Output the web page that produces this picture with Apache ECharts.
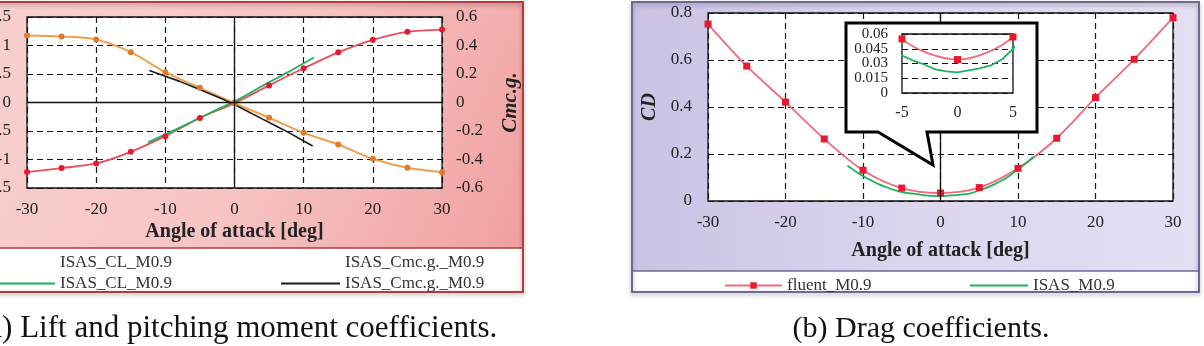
<!DOCTYPE html>
<html><head><meta charset="utf-8">
<script src="https://cdn.jsdelivr.net/npm/echarts@6/dist/echarts.min.js"></script>
<style>html,body{margin:0;padding:0;background:#fff;}#c{width:1204px;height:346px;}</style>
</head><body><div id="c"></div>
<script>
// ---- data ----
const aoa = [-30,-25,-20,-15,-10,-5,0,5,10,15,20,25,30];
const clFluent = [-1.22,-1.15,-1.07,-0.865,-0.59,-0.27,-0.01,0.30,0.60,0.88,1.10,1.24,1.28];
const cmFluent = [0.47,0.463,0.442,0.353,0.213,0.103,-0.005,-0.107,-0.213,-0.295,-0.395,-0.458,-0.489];
const aoaIsasCl = [-12.5,-10,-8,-6,-4,-2,0,2,4,6,8,10,11.5];
const clIsas = [-0.70,-0.56,-0.445,-0.33,-0.21,-0.095,0.02,0.15,0.29,0.42,0.55,0.69,0.79];
const aoaIsasCm = [-12.3,-10,-8,-6,-4,-2,0,2,4,6,8,10,11.3];
const cmIsas = [0.225,0.185,0.15,0.11,0.07,0.03,-0.015,-0.065,-0.115,-0.165,-0.215,-0.27,-0.305];
const cdFluent = [0.753,0.574,0.421,0.264,0.131,0.055,0.034,0.057,0.139,0.267,0.44,0.603,0.78];
const aoaIsasCd = [-12,-11,-10,-9,-8,-7,-6,-5,-4,-3,-2,-1,0,1,2,3,4,5,6,7,8,9,10,11,12];
const cdIsas = [0.150,0.127,0.106,0.088,0.072,0.059,0.047,0.038,0.033,0.029,0.024,0.022,0.021,0.023,0.025,0.028,0.034,0.045,0.057,0.072,0.089,0.110,0.135,0.160,0.187];
const insetYTicksA = [0, 0.03, 0.06];
const insetYTicksB = [0.015, 0.045];
const legendLeftText = ['ISAS_CL_M0.9','ISAS_CL_M0.9','ISAS_Cmc.g._M0.9','ISAS_Cmc.g._M0.9'];
const legendRightText = ['fluent_M0.9','ISAS_M0.9'];
const xTitle = 'Angle of attack [deg]';
const captionA = '(a) Lift and pitching moment coefficients.';
const captionB = '(b) Drag coefficients.';

const pts = (xs, ys) => xs.map((x, i) => [x, ys[i]]);
const FF = '"Liberation Serif", "Times New Roman", serif';
const dash = {type: [6, 4], color: '#151515', width: 1.2};
const lab = (m) => ({margin: m, fontFamily: FF, fontSize: 17, color: '#222', hideOverlap: false, showMinLabel: true, showMaxLabel: true});
const zeroMark = (arr) => ({symbol: 'none', silent: true, label: {show: false}, animation: false,
  lineStyle: {type: 'solid', color: '#111', width: 1.3}, emphasis: {disabled: true}, data: arr});
const fmt3 = (v) => String(+(+v).toFixed(3));

const RED = '#e8192f', REDL = '#ef4b5c', GREEN = '#1db35c', ORANGE = '#eea04e', ORANGEM = '#e07a2c', BLACK = '#1a1a1a';
const legText = {fontFamily: FF, fontSize: 17, color: '#333'};

const chart = echarts.init(document.getElementById('c'), null, {renderer: 'canvas'});
const option = {
  animation: false,
  graphic: [
    {type: 'rect', z: -10, shape: {x: -10, y: 2, width: 533, height: 247},
      style: {fill: new echarts.graphic.LinearGradient(0, 0, 1, 1, [{offset: 0, color: '#f8d0d0'}, {offset: 0.5, color: '#f7c4c4'}, {offset: 1, color: '#f0a0a0'}])}},
    {type: 'rect', z: -10, shape: {x: -10, y: 248, width: 533, height: 43}, style: {fill: '#ffffff'}},
    {type: 'rect', z: -9, shape: {x: -10, y: 2, width: 533, height: 290},
      style: {fill: 'none', stroke: '#b53a3a', lineWidth: 2, shadowBlur: 4, shadowColor: 'rgba(0,0,0,0.35)', shadowOffsetY: 2}},
    {type: 'line', z: -9, shape: {x1: -10, y1: 248, x2: 523, y2: 248}, style: {stroke: '#b53a3a', lineWidth: 1.5}},
    {type: 'rect', z: -10, shape: {x: 632, y: 2, width: 568, height: 270},
      style: {fill: new echarts.graphic.LinearGradient(0, 0, 1, 0, [{offset: 0, color: '#cbc2e4'}, {offset: 0.5, color: '#dcd5ee'}, {offset: 1, color: '#e4dff3'}])}},
    {type: 'rect', z: -10, shape: {x: 632, y: 271, width: 568, height: 21}, style: {fill: '#ffffff'}},
    {type: 'rect', z: -9, shape: {x: 632, y: 2, width: 567, height: 290},
      style: {fill: 'none', stroke: '#6c6a90', lineWidth: 2, shadowBlur: 4, shadowColor: 'rgba(0,0,0,0.35)', shadowOffsetY: 2}},
    {type: 'line', z: -9, shape: {x1: 632, y1: 271, x2: 1199, y2: 271}, style: {stroke: '#6c6a90', lineWidth: 1.5}},
    {type: 'polygon', z: 15, shape: {points: [[846,23],[1037,23],[1037,132],[927,132],[933,165],[878,132],[846,132]]},
      style: {fill: '#ffffff', stroke: '#000', lineWidth: 3, lineJoin: 'miter'}},
    {type: 'text', z: 5, style: {text: captionA, x: -22, y: 329, font: '31px ' + FF, fill: '#111', textAlign: 'left', textVerticalAlign: 'middle', verticalAlign: 'middle'}},
    {type: 'text', z: 5, style: {text: captionB, x: 921, y: 329, font: '30px ' + FF, fill: '#111', textAlign: 'center', align: 'center', textVerticalAlign: 'middle', verticalAlign: 'middle'}}
  ],
  grid: [
    {left: 27, top: 17, width: 415, height: 171, show: true, outerBoundsMode: 'none', containLabel: false, backgroundColor: '#fff', borderColor: '#111', borderWidth: 1.3},
    {left: 708, top: 13, width: 465, height: 188, show: true, outerBoundsMode: 'none', containLabel: false, backgroundColor: '#fff', borderColor: '#111', borderWidth: 1.3},
    {left: 902, top: 34, width: 111, height: 59, show: true, outerBoundsMode: 'none', containLabel: false, z: 20, backgroundColor: '#fff', borderColor: '#111', borderWidth: 1.3}
  ],
  xAxis: [
    {gridIndex: 0, type: 'value', min: -30, max: 30, interval: 10, axisLine: {show: false}, axisTick: {show: false},
      splitLine: {show: true, lineStyle: dash}, axisLabel: lab(13),
      name: xTitle, nameLocation: 'middle', nameGap: 34, nameTextStyle: {fontFamily: FF, fontWeight: 'bold', fontSize: 20, color: '#222'}},
    {gridIndex: 1, type: 'value', min: -30, max: 30, interval: 10, axisLine: {show: false}, axisTick: {show: false},
      splitLine: {show: true, lineStyle: dash}, axisLabel: lab(13),
      name: xTitle, nameLocation: 'middle', nameGap: 40, nameTextStyle: {fontFamily: FF, fontWeight: 'bold', fontSize: 20, color: '#222'}},
    {gridIndex: 2, type: 'value', min: -5, max: 5, interval: 5, z: 21, axisLine: {show: false}, axisTick: {show: false},
      splitLine: {show: false}, axisLabel: {margin: 12, fontFamily: FF, fontSize: 16, color: '#222', hideOverlap: false, showMinLabel: true, showMaxLabel: true}}
  ],
  yAxis: [
    {gridIndex: 0, type: 'value', min: -1.5, max: 1.5, interval: 0.5, position: 'left', axisLine: {show: false}, axisTick: {show: false},
      splitLine: {show: true, lineStyle: dash}, axisLabel: lab(16)},
    {gridIndex: 0, type: 'value', min: -0.6, max: 0.6, interval: 0.2, position: 'right', axisLine: {show: false}, axisTick: {show: false},
      splitLine: {show: false}, axisLabel: lab(14),
      name: 'Cmc.g.', nameLocation: 'middle', nameGap: 58, nameRotate: 90,
      nameTextStyle: {fontFamily: FF, fontWeight: 'bold', fontStyle: 'italic', fontSize: 21, color: '#222'}},
    {gridIndex: 1, type: 'value', min: 0, max: 0.8, interval: 0.2, axisLine: {show: false}, axisTick: {show: false},
      splitLine: {show: true, lineStyle: dash}, axisLabel: lab(16),
      name: 'CD', nameLocation: 'middle', nameGap: 48, nameRotate: 90,
      nameTextStyle: {fontFamily: FF, fontWeight: 'bold', fontStyle: 'italic', fontSize: 20, color: '#222'}},
    {gridIndex: 2, type: 'value', min: 0, max: 0.06, interval: 0.015, z: 21, position: 'left', axisLine: {show: false}, axisTick: {show: false},
      splitLine: {show: true, lineStyle: dash},
      axisLabel: {customValues: insetYTicksA, formatter: fmt3, margin: 14, fontFamily: FF, fontSize: 15, color: '#222', hideOverlap: false, showMinLabel: true, showMaxLabel: true}},
    {gridIndex: 2, type: 'value', min: 0, max: 0.06, interval: 0.015, z: 21, position: 'right', offset: -111, axisLine: {show: false}, axisTick: {show: false},
      splitLine: {show: false},
      axisLabel: {customValues: insetYTicksB, formatter: fmt3, align: 'right', margin: -14, fontFamily: FF, fontSize: 15, color: '#222', hideOverlap: false}}
  ],
  legend: [
    {left: -8, top: 249, selectedMode: false, itemWidth: 57, itemHeight: 8, formatter: () => legendLeftText[0], textStyle: legText,
      data: [{name: 'fluent_CL', itemStyle: {opacity: 0}, lineStyle: {opacity: 0}}]},
    {left: -8, top: 270, selectedMode: false, itemWidth: 57, itemHeight: 8, formatter: () => legendLeftText[1], textStyle: legText,
      data: [{name: 'ISAS_CL', itemStyle: {opacity: 0}}]},
    {left: 275, top: 249, selectedMode: false, itemWidth: 59, itemHeight: 8, formatter: () => legendLeftText[2], textStyle: legText,
      data: [{name: 'fluent_Cm', itemStyle: {opacity: 0}, lineStyle: {opacity: 0}}]},
    {left: 275, top: 270, selectedMode: false, itemWidth: 59, itemHeight: 8, formatter: () => legendLeftText[3], textStyle: legText,
      data: [{name: 'ISAS_Cm', itemStyle: {opacity: 0}}]},
    {left: 719, top: 272, selectedMode: false, itemWidth: 57, itemHeight: 8, formatter: () => legendRightText[0], textStyle: legText,
      data: ['fluent_M0.9']},
    {left: 964, top: 272, selectedMode: false, itemWidth: 58, itemHeight: 8, formatter: () => legendRightText[1], textStyle: legText,
      data: [{name: 'ISAS_M0.9', itemStyle: {opacity: 0}}]}
  ],
  series: [
    {name: 'fluent_CL', type: 'line', xAxisIndex: 0, yAxisIndex: 0, data: pts(aoa, clFluent), smooth: 0.3,
      symbol: 'circle', symbolSize: 6, itemStyle: {color: RED}, lineStyle: {color: REDL, width: 1.8},
      markLine: zeroMark([{xAxis: 0}, {yAxis: 0}])},
    {name: 'ISAS_CL', type: 'line', xAxisIndex: 0, yAxisIndex: 0, data: pts(aoaIsasCl, clIsas), smooth: 0.3,
      showSymbol: false, symbol: 'none', itemStyle: {color: GREEN}, lineStyle: {color: GREEN, width: 1.8}},
    {name: 'fluent_Cm', type: 'line', xAxisIndex: 0, yAxisIndex: 1, data: pts(aoa, cmFluent), smooth: 0.3,
      symbol: 'circle', symbolSize: 6, itemStyle: {color: ORANGEM}, lineStyle: {color: ORANGE, width: 2}},
    {name: 'ISAS_Cm', type: 'line', xAxisIndex: 0, yAxisIndex: 1, data: pts(aoaIsasCm, cmIsas),
      showSymbol: false, symbol: 'none', itemStyle: {color: BLACK}, lineStyle: {color: BLACK, width: 1.6}},
    {name: 'fluent_M0.9', type: 'line', xAxisIndex: 1, yAxisIndex: 2, data: pts(aoa, cdFluent), smooth: 0.3,
      symbol: 'rect', symbolSize: 7, itemStyle: {color: RED}, lineStyle: {color: '#f06a7a', width: 1.8},
      markLine: zeroMark([{xAxis: 0}])},
    {name: 'ISAS_M0.9', type: 'line', xAxisIndex: 1, yAxisIndex: 2, data: pts(aoaIsasCd, cdIsas), smooth: 0.3,
      showSymbol: false, symbol: 'none', itemStyle: {color: GREEN}, lineStyle: {color: GREEN, width: 1.8}},
    {name: 'fluent_M0.9', type: 'line', xAxisIndex: 2, yAxisIndex: 3, z: 22, data: pts(aoa, cdFluent), smooth: 0.3, clip: true,
      symbol: 'rect', symbolSize: 7, itemStyle: {color: RED}, lineStyle: {color: '#f06a7a', width: 1.8},
      markLine: zeroMark([{xAxis: 0}])},
    {name: 'ISAS_M0.9', type: 'line', xAxisIndex: 2, yAxisIndex: 3, z: 22, data: pts(aoaIsasCd, cdIsas), clip: true,
      showSymbol: false, symbol: 'none', itemStyle: {color: GREEN}, lineStyle: {color: GREEN, width: 1.8}}
  ]
};
chart.setOption(option);
</script>
</body></html>
